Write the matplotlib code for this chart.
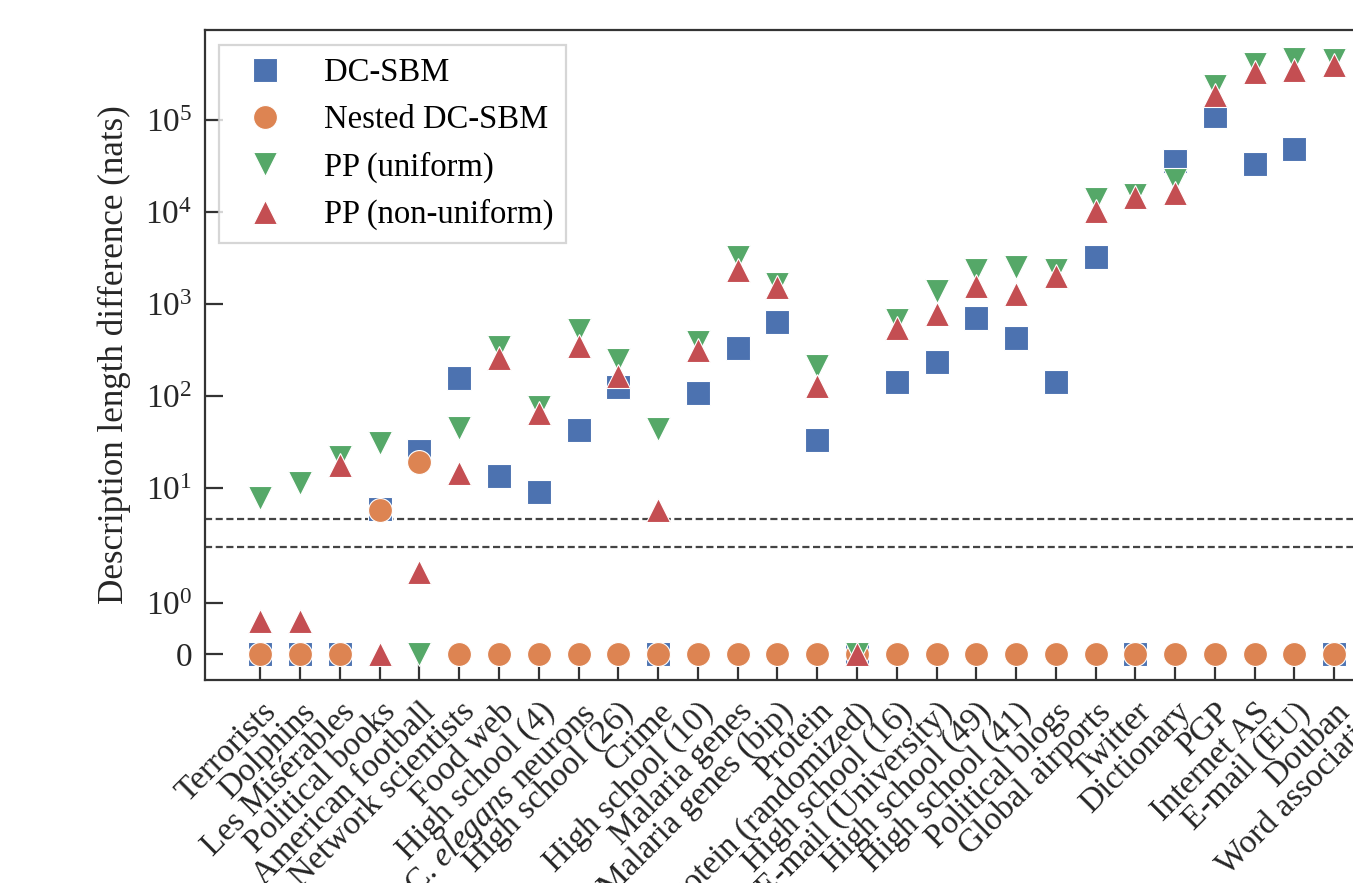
import numpy as np
import matplotlib
matplotlib.use("Agg")
import matplotlib.pyplot as plt

plt.rcParams['font.family'] = ['Liberation Serif', 'DejaVu Serif']
plt.rcParams['mathtext.fontset'] = 'custom'
plt.rcParams['mathtext.rm'] = 'Liberation Serif'
plt.rcParams['mathtext.it'] = 'Liberation Serif:italic'
plt.rcParams['axes.axisbelow'] = True

categories = ["Terrorists", "Dolphins", "Les Misérables", "Political books",
              "American football", "Network scientists", "Food web",
              "High school (4)", r"C. $\it{elegans}$ neurons", "High school (26)",
              "Crime", "High school (10)", "Malaria genes", "Malaria genes (bip)",
              "Protein", "Protein (randomized)", "High school (16)",
              "E-mail (University)", "High school (49)", "High school (41)",
              "Political blogs", "Global airports", "Twitter", "Dictionary",
              "PGP", "Internet AS", "E-mail (EU)", "Douban", "Word association"]

dcsbm = [0, 0, 0, 5.9, 25, 158, 13.4, 9.0, 43, 125,
         0, 108, 330, 637, 33, 0, 144, 233, 704, 429,
         144, 3270, 0, 35700, 111000, 33300, 48400, 0, np.nan]
nested = [0, 0, 0, 5.8, 19, 0, 0, 0, 0, 0,
          0, 0, 0, 0, 0, 0, 0, 0, 0, 0,
          0, 0, 0, 0, 0, 0, 0, 0, np.nan]
pp_uniform = [7.8, 11.3, 21.5, 30.6, 0, 44.7, 345, 77, 527, 247,
              43.8, 391, 3270, 1650, 211, 0, 673, 1390, 2350, 2520,
              2350, 13900, 15300, 22400, 236000, 406000, 469000, 455000, np.nan]
pp_nonuniform = [0.65, 0.65, 18.0, 0, 1.62, 14.7, 257, 66, 352, 164,
                 5.7, 314, 2370, 1540, 128, 0, 544, 792, 1560, 1280,
                 2010, 10200, 14700, 16000, 189000, 332000, 354000, 396000, np.nan]

series_labels = ["DC-SBM", "Nested DC-SBM", "PP (uniform)", "PP (non-uniform)"]
colors = ["#4C72B0", "#DD8452", "#55A868", "#C44E52"]
markers = ["s", "o", "v", "^"]

fig = plt.figure(figsize=(6.765, 4.415), dpi=200)
ax = fig.add_axes([0.1513, 0.2299, 0.9054, 0.7361])

x = np.arange(len(categories))
ax.axhline(np.log(10), color="#444444", lw=0.8, ls=(0, (3.2, 1.6)), zorder=1)
ax.axhline(np.log(100), color="#444444", lw=0.8, ls=(0, (3.2, 1.6)), zorder=1)

for vals, lab, c, m in zip([dcsbm, nested, pp_uniform, pp_nonuniform],
                           series_labels, colors, markers):
    ax.plot(x, vals, linestyle="none", marker=m, color=c, ms=8.6,
            mec="white", mew=0.4, label=lab, zorder=3)

ax.set_yscale("symlog", linthresh=2, linscale=1)
ax.set_yticks([0, 1, 10, 100, 1e3, 1e4, 1e5])
ax.yaxis.set_minor_locator(matplotlib.ticker.NullLocator())
ax.set_ylim(-0.5, 9.6e5)
ax.set_xlim(-1.4, len(categories) - 1 + 1.4)
ax.set_xticks(x)
ax.set_xticklabels(categories, rotation=45, ha="right", rotation_mode="anchor",
                   fontsize=12)
ax.tick_params(axis="both", direction="in", length=6.5, width=0.8,
               color="#333333", labelcolor="#262626", labelsize=12, pad=4.5)
ax.tick_params(axis="x", pad=6)
for s in ax.spines.values():
    s.set_linewidth(0.8)
    s.set_color("#333333")
ax.set_ylabel("Description length difference (nats)", fontsize=12.6,
              color="#262626", labelpad=5)

leg = ax.legend(loc="upper left", fontsize=11.75, frameon=True, fancybox=False,
                borderaxespad=0.45)
leg.get_frame().set_edgecolor("#cccccc")
leg.get_frame().set_linewidth(0.8)

fig.savefig("out.png", dpi=200)
